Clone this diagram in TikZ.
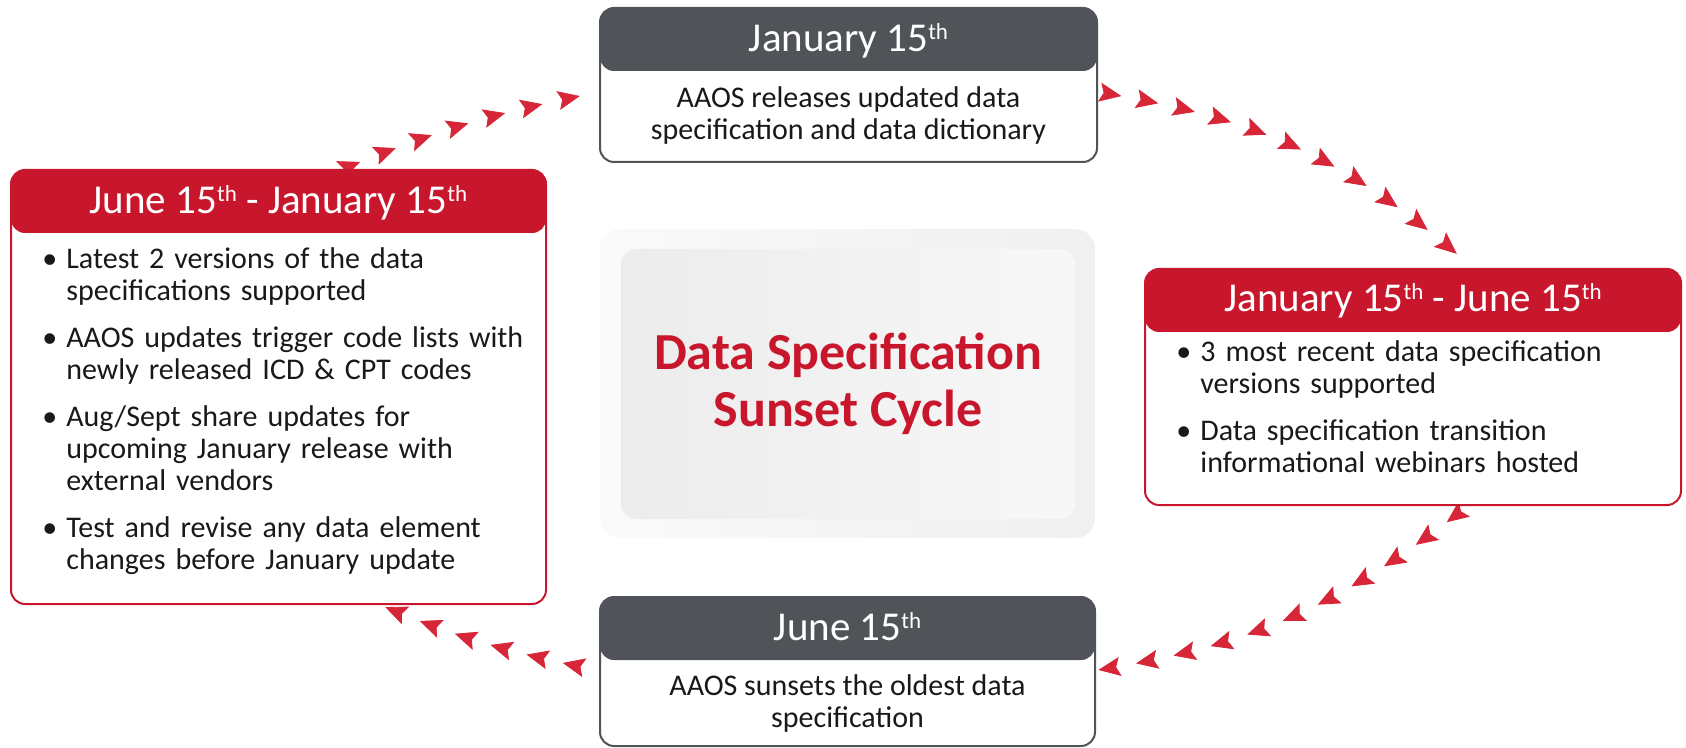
\documentclass[tikz,border=0pt]{standalone}
\usepackage{fontspec}
\setmainfont{Carlito}
\usetikzlibrary{arrows.meta, positioning, decorations.markings, backgrounds}
\definecolor{aaosred}{RGB}{200,22,44}
\definecolor{aaosgray}{RGB}{80,84,88}
\definecolor{dotred}{RGB}{214,38,56}
\newcommand{\cardpoint}[1]{\hangindent=12pt\noindent\makebox[12pt][l]{\textbullet}#1\par\vspace{7.5pt}}
\newcommand{\thsup}{\raisebox{6pt}{\fontsize{11.5}{11.5}\selectfont th}}

\begin{document}
\begin{tikzpicture}[
        x=0.5pt, y=-0.5pt,
        font=\fontsize{15}{16}\selectfont,
        card/.style={draw=#1, fill=white, line width=1pt, rounded corners=7pt, inner sep=0pt,
            path picture={\fill[#1] (path picture bounding box.north west) rectangle ([yshift=-31.5pt]path picture bounding box.north east);}},
        hdtext/.style={text=white, font=\fontsize{20.5}{22}\selectfont, inner sep=0pt, anchor=base},
        bodytext/.style={text=black!90, align=center, inner sep=0pt},
        pointlist/.style={text=black!90, text width=250pt, align=left, inner sep=0pt, anchor=north west},
        hub/.style={rounded corners=10pt, inner sep=0pt},
        dotchain/.style={dotred, decoration={markings, mark=between positions 0.001 and 1 step #1 with {\arrow{Stealth[length=11pt, width=9.5pt, inset=2pt]}}}, postaction={decorate}},
    ]
    \useasboundingbox (0,0) rectangle (1686,748);

    % Cards
    \node[card=aaosgray, minimum width=248.5pt, minimum height=77pt] (jan) at (848.5,85) {};
    \node[card=aaosred, minimum width=267.5pt, minimum height=217pt] (junjan) at (278.5,387) {};
    \node[card=aaosred, minimum width=268pt, minimum height=118pt] (janjun) at (1413,387) {};
    \node[card=aaosgray, minimum width=247.5pt, minimum height=74.5pt] (jun) at (847.5,671.5) {};

    % Headers
    \node[hdtext] (janhd) at ([yshift=-22.5pt]jan.north) {January 15\thsup};
    \node[hdtext] (junjanhd) at ([yshift=-22.5pt]junjan.north) {June 15\thsup{} - January 15\thsup};
    \node[hdtext] (janjunhd) at ([yshift=-22pt]janjun.north) {January 15\thsup{} - June 15\thsup};
    \node[hdtext] (junhd) at ([yshift=-22pt]jun.north) {June 15\thsup};

    % Card texts
    \node[bodytext] (janbody) at ([yshift=-54.5pt]jan.north) {AAOS releases updated data\\specification and data dictionary};
    \node[bodytext] (junbody) at ([yshift=-53.5pt]jun.north) {AAOS sunsets the oldest data\\specification};
    \node[pointlist] (junjanpts) at ([xshift=16pt,yshift=-39pt]junjan.north west) {%
        \cardpoint{Latest 2 versions of the data\newline specifications supported}
        \cardpoint{AAOS updates trigger code lists with\newline newly released ICD \& CPT codes}
        \cardpoint{Aug/Sept share updates for\newline upcoming January release with\newline external vendors}
        \cardpoint{Test and revise any data element\newline changes before January update}};
    \node[pointlist] (janjunpts) at ([xshift=16pt,yshift=-36pt]janjun.north west) {%
        \cardpoint{3 most recent data specification\newline versions supported}
        \cardpoint{Data specification transition\newline informational webinars hosted}};

    % Hub
    \node[hub, left color=gray!4, right color=gray!12, minimum width=247.5pt, minimum height=154.5pt] (hubout) at (847.5,383.5) {};
    \node[hub, rounded corners=8pt, left color=gray!15, right color=gray!6, minimum width=227pt, minimum height=135pt] (hubin) at (848,384) {};
    \node[font=\bfseries\fontsize{26}{28.5}\selectfont, text=aaosred, align=center] (title) at (hubin) {Data Specification\\Sunset Cycle};

    % Arrow chains
    \begin{scope}[on background layer]
        \path[dotchain=0.1664] ([xshift=40.75pt,yshift=3.5pt]junjan.north) to[bend left=5] ([xshift=-9.5pt,yshift=-5.5pt]jan.west);
        \path[dotchain=0.0998] ([xshift=11.5pt,yshift=-5.5pt]jan.east) to[bend left=15] ([xshift=22pt,yshift=7pt]janjun.north);
        \path[dotchain=0.0998] ([xshift=17pt,yshift=-8pt]janjun.south) to[bend left=14] ([xshift=1pt,yshift=0.75pt]jun.east);
        \path[dotchain=0.1996] ([xshift=-18pt,yshift=4.25pt]jun.west) to[bend left=5] ([xshift=53.25pt,yshift=-1pt]junjan.south);
    \end{scope}

\end{tikzpicture}
\end{document}
